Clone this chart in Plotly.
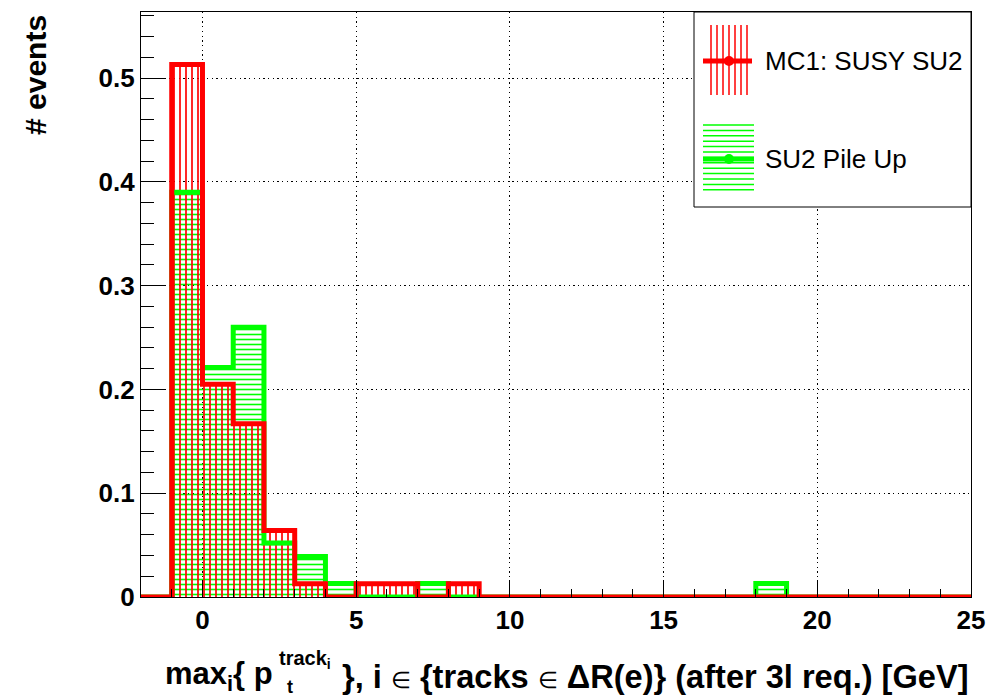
import plotly.graph_objects as go

# ---------------- data ----------------
bin_edges = list(range(-1, 26))  # 26 bins of width 1 from -1 to 25
mc1_susy_su2 = [0.513, 0.205, 0.167, 0.064, 0.0128, 0, 0.0128, 0.0128, 0, 0.0128,
                0, 0, 0, 0, 0, 0, 0, 0, 0, 0, 0, 0, 0, 0, 0, 0]
su2_pile_up = [0.390, 0.221, 0.260, 0.052, 0.039, 0.013, 0, 0, 0.013, 0,
               0, 0, 0, 0, 0, 0, 0, 0, 0, 0.013, 0, 0, 0, 0, 0, 0]
series_names = ["MC1: SUSY SU2", "SU2 Pile Up"]
x_range = [-2, 25]
y_range = [0, 0.5636]
y_title = "# events"

# ---------------- layout helpers ----------------
W, H = 986, 697
L, R, T, B = 141, 971, 12, 597
PW, PH = R - L, B - T


def px(x):
    return (x - L) / PW


def py(y):
    return (B - y) / PH


RED = "#ff0000"
GREEN = "#00ff00"
FONT = "Liberation Sans"

centers = [e + 0.5 for e in bin_edges[:-1]]

fig = go.Figure()


def add_hist(values, color, shape, size, solidity):
    fig.add_trace(go.Bar(
        x=centers, y=values, width=1,
        marker=dict(color=color, line=dict(width=0),
                    pattern=dict(shape=shape, size=size, solidity=solidity,
                                 fgcolor=color, fillmode="replace")),
        showlegend=False, hoverinfo="skip"))
    xs = [x_range[0]] + bin_edges
    ys = [0] + list(values) + [0]
    fig.add_trace(go.Scatter(
        x=xs, y=ys, mode="lines", line=dict(color=color, width=5, shape="hv"),
        cliponaxis=False, showlegend=False, hoverinfo="skip"))


add_hist(su2_pile_up, GREEN, "-", 5, 0.32)
add_hist(mc1_susy_su2, RED, "|", 6, 0.28)

axis_common = dict(
    showline=True, linecolor="black", linewidth=1.3, mirror=True,
    ticks="inside", tickcolor="black", tickwidth=1,
    showgrid=True, gridcolor="black", gridwidth=1.2, griddash="1.3px,3.4px",
    zeroline=False, automargin=False,
    tickfont=dict(family=FONT, size=26, color="black", weight="bold"),
)

fig.update_xaxes(range=x_range, tick0=0, dtick=5, ticklen=17,
                 minor=dict(dtick=1, ticklen=8, ticks="inside", tickcolor="black",
                            tickwidth=1, showgrid=False),
                 **axis_common)
fig.update_yaxes(range=y_range, tick0=0, dtick=0.1, ticklen=25,
                 minor=dict(dtick=0.02, ticklen=13, ticks="inside", tickcolor="black",
                            tickwidth=1, showgrid=False),
                 **axis_common)

shapes = []
# legend box
shapes.append(dict(type="rect", xref="paper", yref="paper",
                   x0=px(694), x1=px(971), y0=py(207), y1=py(12),
                   line=dict(color="black", width=1), fillcolor="white", layer="above"))
# red glyph: vertical hatch lines + line with marker
for k in range(7):
    xx = 711 + 6 * k
    shapes.append(dict(type="line", xref="paper", yref="paper",
                       x0=px(xx), x1=px(xx), y0=py(25), y1=py(95),
                       line=dict(color=RED, width=1.5), layer="above"))
shapes.append(dict(type="line", xref="paper", yref="paper",
                   x0=px(703), x1=px(752), y0=py(61), y1=py(61),
                   line=dict(color=RED, width=5), layer="above"))
shapes.append(dict(type="circle", xref="paper", yref="paper",
                   x0=px(724), x1=px(734), y0=py(66), y1=py(56),
                   line=dict(color=RED, width=0), fillcolor=RED, layer="above"))
# green glyph: horizontal hatch lines + line with marker
for k in range(13):
    yy = 125 + 5.4 * k
    shapes.append(dict(type="line", xref="paper", yref="paper",
                       x0=px(703), x1=px(754), y0=py(yy), y1=py(yy),
                       line=dict(color=GREEN, width=1.5), layer="above"))
shapes.append(dict(type="line", xref="paper", yref="paper",
                   x0=px(703), x1=px(754), y0=py(159), y1=py(159),
                   line=dict(color=GREEN, width=5), layer="above"))
shapes.append(dict(type="circle", xref="paper", yref="paper",
                   x0=px(724), x1=px(734), y0=py(164), y1=py(154),
                   line=dict(color=GREEN, width=0), fillcolor=GREEN, layer="above"))

ELEM = '<span style="font-weight:normal;font-size:23px">∈</span>'

annotations = [
    dict(text=series_names[0], x=px(763), y=py(61), xanchor="left", yanchor="middle",
         font=dict(family=FONT, size=26, color="black")),
    dict(text=series_names[1], x=px(763), y=py(159), xanchor="left", yanchor="middle",
         font=dict(family=FONT, size=26, color="black")),
    dict(text=y_title, x=px(35), y=py(13), xanchor="center", yanchor="top", textangle=-90,
         font=dict(family=FONT, size=30, color="black", weight="bold")),
    # x-axis title, composed
    dict(text="max<sub>i</sub>{ p", x=px(163), y=py(676), xanchor="left", yanchor="middle",
         font=dict(family=FONT, size=31, color="black", weight="bold")),
    dict(text="t", x=px(285), y=py(687), xanchor="left", yanchor="middle",
         font=dict(family=FONT, size=18, color="black", weight="bold")),
    dict(text="track<sub>i</sub>", x=px(277), y=py(659), xanchor="left", yanchor="middle",
         font=dict(family=FONT, size=20, color="black", weight="bold")),
    dict(text="}, i " + ELEM + " {tracks " + ELEM + " ΔR(e)} (after 3l req.) [GeV]",
         x=px(970), y=py(676), xanchor="right", yanchor="middle",
         font=dict(family=FONT, size=32.6, color="black", weight="bold")),
]
for a in annotations:
    a.setdefault("xref", "paper")
    a.setdefault("yref", "paper")
    a["showarrow"] = False

fig.update_layout(
    width=W, height=H,
    margin=dict(l=L, r=W - R, t=T, b=H - B, autoexpand=False),
    paper_bgcolor="white", plot_bgcolor="white",
    barmode="overlay", bargap=0,
    showlegend=False,
    shapes=shapes, annotations=annotations,
    font=dict(family=FONT, color="black"),
)

fig.write_html("out.html")
